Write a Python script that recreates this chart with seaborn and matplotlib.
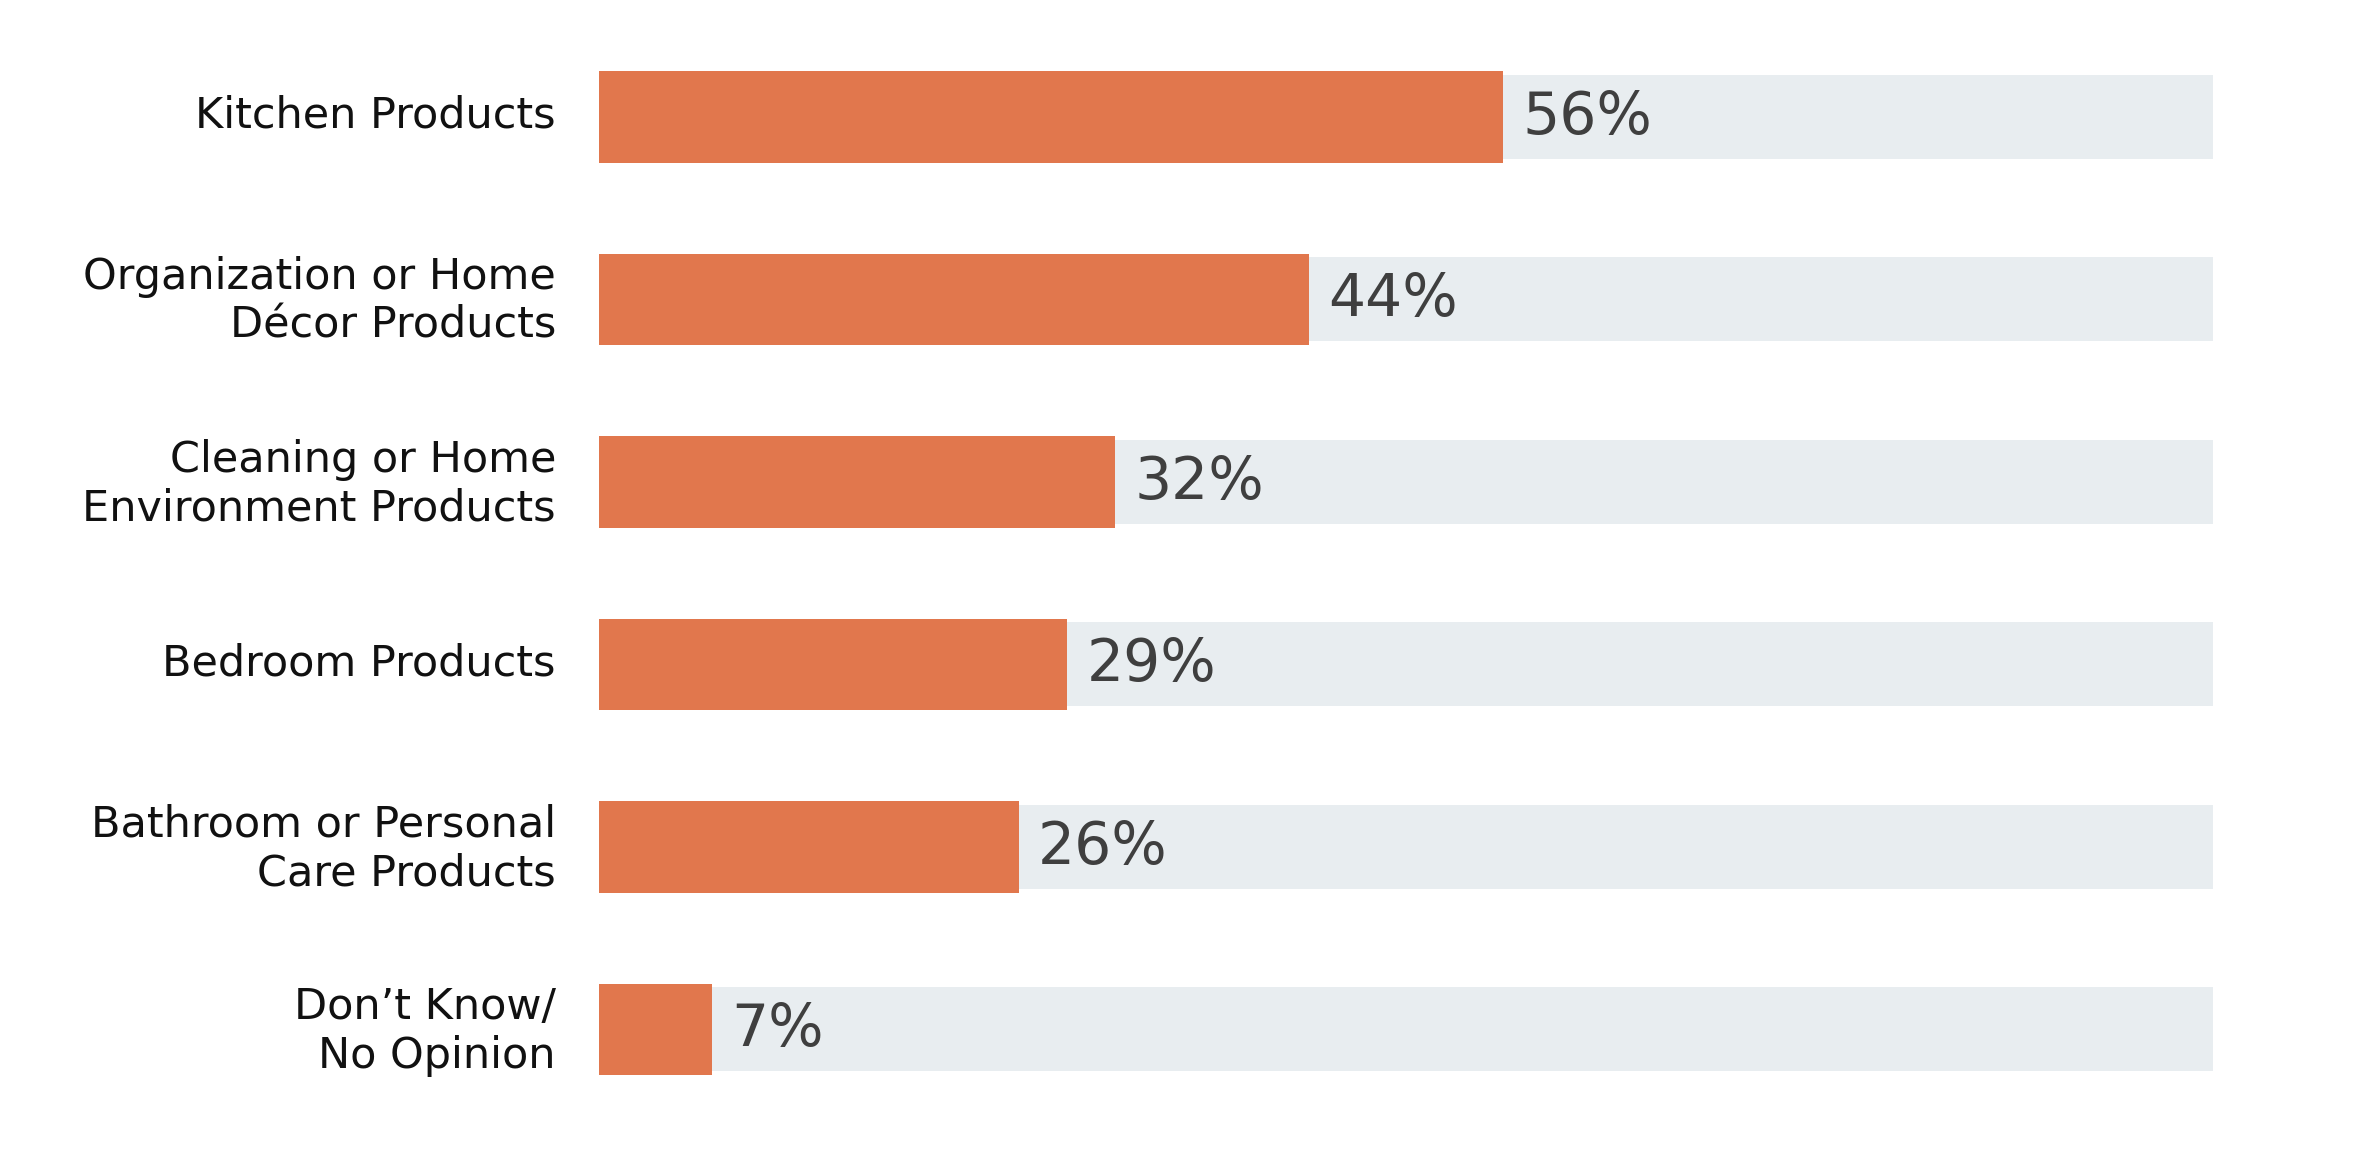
import pandas as pd
import matplotlib.pyplot as plt
import matplotlib.transforms as mtransforms
import seaborn as sns

# ------------------------------------------------------------
# data
# ------------------------------------------------------------
categories = [
    "Kitchen Products",
    "Organization or Home\nDécor Products",
    "Cleaning or Home\nEnvironment Products",
    "Bedroom Products",
    "Bathroom or Personal\nCare Products",
    "Don\u2019t Know/\nNo Opinion",
]
shares = [56, 44, 32, 29, 26, 7]
track = [100, 100, 100, 100, 100, 100]

ORANGE = "#E1774D"
TRACK = "#E8EDF0"
TEXT = "#3F3F3F"

df = pd.DataFrame({"category": categories, "share": shares, "track": track})

sns.set_theme(style="white")
plt.rcParams["font.family"] = ["DejaVu Sans"]

fig = plt.figure(figsize=(23.62, 11.68), dpi=100)
ax = fig.add_axes([0.2536, 0.0405, 0.6833, 0.9375])

# grey track behind each bar, then the orange value bar
sns.barplot(data=df, x="track", y="category", orient="h", color=TRACK,
            width=0.46, saturation=1, linewidth=0, ax=ax)
sns.barplot(data=df, x="share", y="category", orient="h", color=ORANGE,
            width=0.5, saturation=1, linewidth=0, ax=ax)

for i, v in enumerate(shares):
    ax.annotate(f"{v}%", xy=(v, i), xytext=(14, 4), textcoords="offset points",
                ha="left", va="center_baseline", fontsize=42, color=TEXT)

ax.set_xlim(0, 100)
ax.set_ylim(len(categories) - 0.5, -0.5)
ax.set_xlabel("")
ax.set_ylabel("")
ax.set_xticks([])
ax.tick_params(axis="y", length=0, pad=31, labelsize=31, labelcolor="#111111")

# nudge the category labels up a touch, like the original
lift = mtransforms.ScaledTranslation(0, 4 / 72, fig.dpi_scale_trans)
for lab in ax.get_yticklabels():
    lab.set_transform(lab.get_transform() + lift)

for spine in ax.spines.values():
    spine.set_visible(False)

fig.savefig("out.png", dpi=100, facecolor="white")
